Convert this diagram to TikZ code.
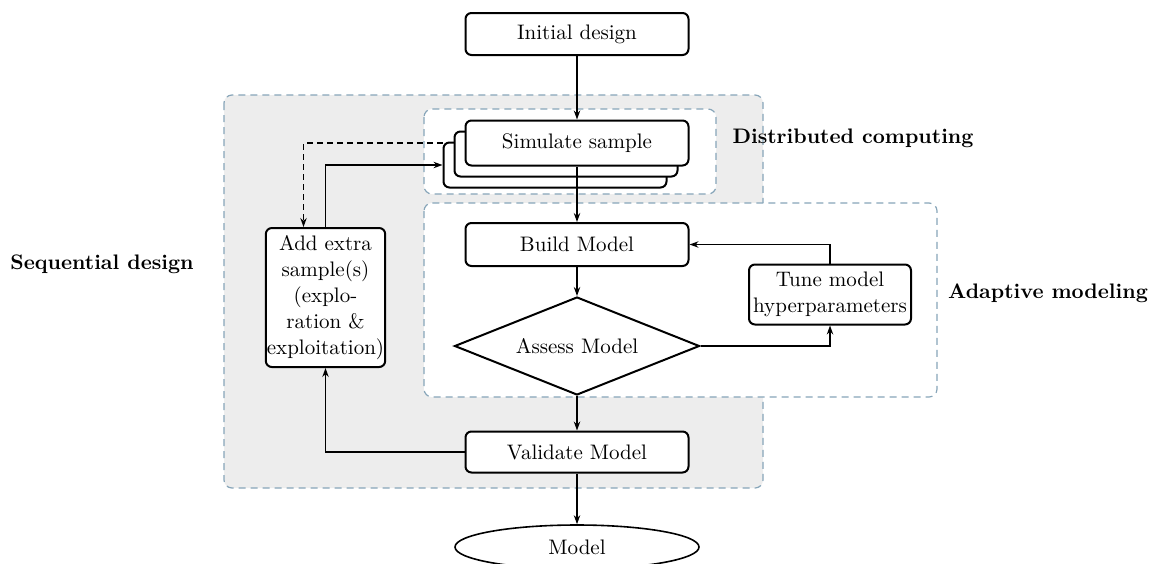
\documentclass[tikz,border=0pt]{standalone}
\usetikzlibrary{arrows.meta,shapes.geometric}
\definecolor{regborder}{RGB}{135,165,185}
\definecolor{regfill}{RGB}{237,237,237}
\begin{document}
\begin{tikzpicture}[x=0.5pt,y=-0.5pt,
  every node/.style={font=\fontsize{10.5}{13}\selectfont},
  box/.style={draw,line width=1pt,rounded corners=3pt,fill=white,minimum width=111.5pt,minimum height=21.5pt,inner sep=1pt,align=center},
  region/.style={draw=regborder,dashed,dash pattern=on 3.5pt off 2.5pt,line width=0.6pt,rounded corners=4pt},
  conn/.style={line width=0.75pt,-{Stealth[length=4.5pt,width=3.2pt]}},
  lbl/.style={font=\fontsize{10.5}{13}\selectfont\bfseries}
]
\useasboundingbox (0,0) rectangle (1154,563);
% regions
\draw[region,fill=regfill] (224,95) rectangle (763,488);
\draw[region,fill=white] (424,109) rectangle (716,194);
\draw[region,fill=white] (424,203) rectangle (937,397);
% labels
\node[lbl] (lseq) at (102,264) {Sequential design};
\node[lbl] (ldist) at (853,138) {Distributed computing};
\node[lbl] (ladapt) at (1048,293) {Adaptive modeling};
% nodes
\node[box,minimum height=21pt] (init) at (577,34) {Initial design};
\node[box,minimum height=22.5pt] (sim3) at (555,165) {\phantom{Simulate sample}};
\node[box,minimum height=22.5pt] (sim2) at (566,154) {\phantom{Simulate sample}};
\node[box,minimum height=22.5pt] (sim) at (577,143) {Simulate sample};
\node[box] (build) at (577,244.5) {Build Model};
\node[draw,line width=1pt,diamond,aspect=2.5,fill=white,inner sep=0pt,minimum width=122.5pt,minimum height=49pt] (assess) at (577,346) {Assess Model};
\node[box,minimum width=81pt,minimum height=30pt,inner sep=0.5pt] (tune) at (830,294.5) {Tune model\\hyperparameters};
\node[box,minimum width=59.5pt,minimum height=69.5pt,inner sep=0.5pt] (add) at (325.5,297.5) {Add extra\\sample(s)\\(explo-\\ration \&\\exploitation)};
\node[box,minimum height=20.5pt] (validate) at (577,452) {Validate Model};
\node[draw,line width=0.8pt,ellipse,fill=white,minimum width=122pt,minimum height=22pt,inner sep=0pt] (model) at (577,547) {Model};
% connectors
\draw[conn] (init.south) -- (sim.north);
\draw[conn] (sim.south) -- (build.north);
\draw[conn] (build.south) -- (assess.north);
\draw[conn] (assess.south) -- (validate.north);
\draw[conn] (validate.south) -- (model.north);
\draw[conn] (assess.east) -| (tune.south);
\draw[conn] (tune.north) |- (build.east);
\draw[conn] (validate.west) -| (add.south);
\draw[conn] (add.north) |- (sim3.west);
\draw[conn,dashed,dash pattern=on 3pt off 2pt] (sim3.west |- sim.west) -| ([xshift=-11pt]add.north);
\end{tikzpicture}
\end{document}
